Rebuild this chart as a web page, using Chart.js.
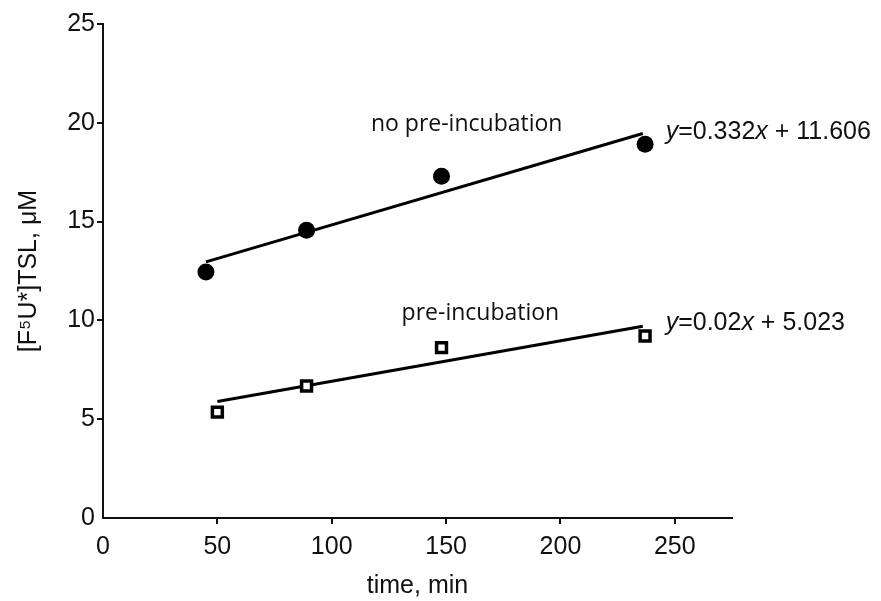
<!DOCTYPE html>
<html>
<head>
<meta charset="utf-8">
<script src="https://cdn.jsdelivr.net/npm/chart.js@4.4.0/dist/chart.umd.min.js"></script>
<style>
  body { margin: 0; background: #fff; }
  canvas { display: block; }
</style>
</head>
<body>
<canvas id="kinetics" width="881" height="601"></canvas>
<script>
// measured points
const timeNoPre = [45, 89, 148, 237];
const valuesNoPre = [12.45, 14.56, 17.3, 18.92];
const timePre = [50, 89, 148, 237];
const valuesPre = [5.36, 6.68, 8.62, 9.21];

// fitted lines (end points as drawn)
const fitNoPreX = [45, 236];
const fitNoPreY = [12.96, 19.46];
const fitPreX = [50, 236];
const fitPreY = [5.9, 9.7];

const xTicks = [0, 50, 100, 150, 200, 250];
const yTicks = [0, 5, 10, 15, 20, 25];

// labels placed in data coordinates
const seriesLabels = [
    { text: 'no pre-incubation', x: 159, y: 19.9 },
    { text: 'pre-incubation', x: 165, y: 10.36 }
];
const equations = [
    { slope: '0.332', icpt: '11.606', x: 246, y: 19.54 },
    { slope: '0.02', icpt: '5.023', x: 246, y: 9.85 }
];

function toPoints(xs, ys) {
    let pts = [];
    for (let i = 0; i < xs.length; i++) {
        pts.push({ x: xs[i], y: ys[i] });
    }
    return pts;
}

const ink = '#111';
const sans = '"Liberation Sans", Arial';

const annotations = {
    id: 'annotations',
    afterDatasetsDraw(chart) {
        const ctx = chart.ctx;
        const xs = chart.scales.x;
        const ys = chart.scales.y;
        ctx.save();
        ctx.fillStyle = ink;
        ctx.textBaseline = 'middle';

        ctx.font = '23px "Open Sans"';
        ctx.textAlign = 'center';
        seriesLabels.forEach(l => {
            ctx.fillText(l.text, xs.getPixelForValue(l.x), ys.getPixelForValue(l.y));
        });

        ctx.textAlign = 'left';
        equations.forEach(e => {
            let px = xs.getPixelForValue(e.x);
            const py = ys.getPixelForValue(e.y);
            const parts = [
                ['y', 'italic'],
                ['=' + e.slope, ''],
                ['x', 'italic'],
                [' + ' + e.icpt, '']
            ];
            parts.forEach(p => {
                ctx.font = (p[1] ? p[1] + ' ' : '') + '25px ' + sans;
                ctx.fillText(p[0], px, py);
                px += ctx.measureText(p[0]).width;
            });
        });
        ctx.restore();
    }
};

const tickColor = (c) => (c.tick && c.tick.value === 0 ? 'rgba(0,0,0,0)' : ink);

const config = {
    type: 'scatter',
    data: {
        datasets: [
            {
                label: 'no pre-incubation',
                data: toPoints(timeNoPre, valuesNoPre),
                pointStyle: 'circle',
                pointRadius: 8.5,
                pointBackgroundColor: '#000',
                pointBorderColor: '#000',
                pointBorderWidth: 0
            },
            {
                label: 'pre-incubation',
                data: toPoints(timePre, valuesPre),
                pointStyle: 'rect',
                pointRadius: 7,
                pointBackgroundColor: '#fff',
                pointBorderColor: '#000',
                pointBorderWidth: 3.5
            },
            {
                label: 'fit no pre-incubation',
                data: toPoints(fitNoPreX, fitNoPreY),
                showLine: true,
                borderColor: '#000',
                borderWidth: 3,
                pointRadius: 0
            },
            {
                label: 'fit pre-incubation',
                data: toPoints(fitPreX, fitPreY),
                showLine: true,
                borderColor: '#000',
                borderWidth: 3,
                pointRadius: 0
            }
        ]
    },
    options: {
        responsive: false,
        animation: false,
        layout: { padding: { top: 24, right: 149, bottom: 0, left: 0 } },
        plugins: {
            legend: { display: false },
            tooltip: { enabled: false }
        },
        scales: {
            x: {
                type: 'linear',
                min: 0,
                max: 275,
                afterBuildTicks: (s) => { s.ticks = xTicks.map(v => ({ value: v })); },
                afterFit: (s) => { s.height = 83; },
                border: { display: true, color: ink, width: 2 },
                grid: { drawOnChartArea: false, drawTicks: true, tickLength: 6, color: tickColor, lineWidth: 2 },
                ticks: { color: ink, padding: 8, font: { family: sans, size: 25 } },
                title: {
                    display: true,
                    text: 'time, min',
                    color: ink,
                    padding: { top: -4, bottom: 0 },
                    font: { family: sans, size: 25 }
                }
            },
            y: {
                type: 'linear',
                min: 0,
                max: 25,
                afterBuildTicks: (s) => { s.ticks = yTicks.map(v => ({ value: v })); },
                afterFit: (s) => { s.width = 103; },
                border: { display: true, color: ink, width: 2 },
                grid: { drawOnChartArea: false, drawTicks: true, tickLength: 6, color: tickColor, lineWidth: 2 },
                ticks: { color: ink, padding: 2, font: { family: sans, size: 25 } },
                title: {
                    display: true,
                    text: '[F⁵U*]TSL, μM',
                    color: ink,
                    padding: { top: 14, bottom: 0 },
                    font: { family: sans, size: 25 }
                }
            }
        }
    },
    plugins: [annotations]
};

const ctx = document.getElementById('kinetics');
const kineticsChart = new Chart(ctx, config);
</script>
</body>
</html>
